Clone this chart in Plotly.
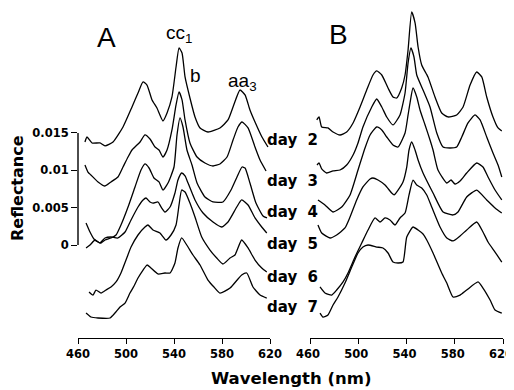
import plotly.graph_objects as go

# ---------------- data (reflectance in units of 1e-3, wavelength in nm) -------------
A_day2_nm = [465.8, 467.5, 471.7, 478.3, 482.5, 489.2, 497.5, 505.0, 510.0, 514.2, 517.5, 521.7, 525.8, 530.8, 534.2, 538.3, 541.7, 544.2, 546.7, 549.2, 553.3, 557.5, 561.7, 568.3, 578.3, 585.0, 589.2, 595.0, 599.2, 603.3, 607.5, 613.3, 618.3]
A_day2_R = [13.79, 14.46, 13.66, 13.66, 13.26, 13.79, 15.80, 18.48, 20.35, 21.83, 21.42, 19.42, 18.34, 16.60, 17.67, 19.82, 23.83, 26.38, 25.71, 22.50, 19.68, 17.14, 15.67, 15.13, 15.67, 16.74, 18.48, 20.75, 20.09, 18.08, 16.47, 14.46, 13.12]

A_day3_nm = [465.8, 468.3, 470.8, 476.7, 482.5, 487.5, 493.3, 497.5, 501.7, 505.0, 511.7, 515.8, 520.0, 524.2, 527.5, 530.8, 534.2, 538.3, 541.7, 544.2, 546.7, 549.2, 553.3, 559.2, 565.8, 572.5, 578.3, 584.2, 589.2, 593.3, 596.7, 601.7, 607.5, 611.7, 616.7]
A_day3_R = [10.71, 9.77, 9.37, 8.44, 7.90, 8.44, 9.11, 10.44, 11.78, 12.72, 13.79, 14.73, 14.19, 13.12, 12.72, 11.78, 12.72, 15.40, 18.75, 20.49, 19.42, 16.74, 13.66, 11.78, 10.98, 10.58, 10.85, 11.78, 14.06, 15.80, 16.47, 15.67, 13.12, 11.38, 9.91]

A_day4_nm = [466.7, 470.0, 473.3, 476.7, 479.2, 482.5, 487.5, 491.7, 495.8, 501.7, 507.5, 512.5, 515.8, 519.2, 523.3, 527.5, 530.8, 535.0, 540.0, 542.5, 545.0, 547.5, 550.8, 555.0, 559.2, 565.8, 572.5, 580.8, 587.5, 592.5, 596.7, 599.2, 603.3, 608.3, 614.2, 617.5]
A_day4_R = [2.95, 1.74, 0.80, 0.40, 0.27, 0.67, 0.94, 1.34, 2.68, 5.09, 7.77, 10.04, 10.85, 10.31, 8.97, 8.44, 7.36, 8.30, 10.44, 14.73, 17.01, 15.80, 12.72, 10.71, 8.30, 6.43, 5.76, 5.76, 7.36, 9.11, 10.44, 10.31, 8.30, 5.62, 3.88, 3.62]

A_day5_nm = [466.7, 470.0, 474.2, 478.3, 482.5, 487.5, 493.3, 499.2, 504.2, 510.0, 514.2, 516.7, 520.0, 522.5, 526.7, 529.2, 532.5, 536.7, 540.8, 543.3, 546.4, 549.2, 551.7, 557.5, 564.2, 572.5, 579.7, 585.0, 592.3, 596.4, 601.7, 607.5, 613.1, 617.3]
A_day5_R = [-0.40, 0.00, 0.67, 0.27, 0.94, 1.07, 0.94, 1.74, 3.35, 5.09, 6.03, 6.29, 5.76, 5.62, 5.76, 5.09, 4.42, 5.09, 6.96, 8.70, 9.64, 9.24, 8.30, 6.03, 4.28, 3.08, 2.41, 3.08, 5.09, 6.03, 5.36, 3.62, 2.41, 1.61]

A_day6_nm = [469.2, 472.5, 475.0, 479.2, 483.3, 487.5, 491.7, 495.8, 500.0, 504.2, 510.0, 515.8, 518.3, 522.5, 528.3, 533.3, 537.5, 541.7, 544.2, 546.4, 549.2, 553.3, 557.5, 563.1, 570.0, 575.6, 580.8, 586.7, 590.8, 596.4, 601.7, 607.5, 613.1, 617.3]
A_day6_R = [-6.29, -6.70, -6.03, -6.43, -6.03, -5.62, -4.95, -3.75, -2.01, -0.27, 1.34, 2.41, 2.68, 2.01, 1.61, 0.67, 1.34, 2.68, 5.36, 7.36, 7.10, 5.62, 3.75, 1.07, -0.67, -1.74, -2.54, -1.74, -1.34, 0.67, -0.40, -2.01, -3.08, -3.62]

A_day7_nm = [466.7, 470.8, 476.7, 486.7, 490.8, 495.0, 499.2, 503.3, 506.7, 510.0, 514.2, 517.5, 520.8, 526.7, 532.5, 536.7, 540.8, 543.3, 546.4, 550.6, 555.8, 561.7, 568.3, 573.3, 578.3, 586.7, 596.4, 600.6, 605.8, 611.7, 617.3]
A_day7_R = [-9.11, -9.64, -9.77, -9.77, -9.11, -8.30, -7.77, -6.43, -5.49, -4.42, -3.35, -2.68, -3.08, -3.88, -3.75, -3.75, -2.41, -0.40, 0.94, 0.00, -1.34, -2.68, -4.69, -5.62, -6.43, -5.76, -4.02, -3.75, -5.62, -6.70, -7.10]

B_day2_nm = [465.6, 467.5, 469.7, 474.9, 479.1, 484.9, 490.4, 495.7, 501.5, 507.0, 512.2, 515.3, 519.5, 524.7, 528.8, 531.9, 536.0, 538.8, 541.3, 544.3, 547.1, 549.6, 552.6, 557.8, 563.6, 569.2, 574.4, 581.6, 586.9, 592.7, 598.2, 602.4, 606.5, 611.7, 615.9, 619.0]
B_day2_R = [16.74, 17.14, 15.80, 15.67, 15.13, 14.73, 15.13, 16.34, 18.48, 20.75, 22.76, 23.30, 22.76, 21.02, 19.82, 19.68, 21.02, 22.76, 26.11, 31.20, 29.73, 26.51, 24.10, 22.50, 19.82, 17.67, 17.14, 17.41, 18.48, 21.42, 23.16, 22.50, 19.82, 17.14, 15.67, 15.26]

B_day3_nm = [465.8, 467.5, 469.7, 473.8, 479.1, 484.9, 490.4, 495.7, 499.8, 503.9, 511.2, 515.3, 519.5, 523.6, 528.8, 534.6, 538.8, 541.3, 543.7, 546.2, 548.5, 553.7, 559.5, 565.1, 570.3, 576.1, 581.6, 585.8, 591.0, 596.8, 601.0, 606.5, 611.7, 615.9, 619.0]
B_day3_R = [10.71, 10.98, 10.18, 9.64, 9.91, 10.04, 10.71, 12.05, 13.66, 15.80, 18.48, 19.55, 18.48, 17.14, 16.07, 17.41, 20.35, 24.37, 26.38, 25.17, 22.76, 20.75, 18.48, 15.00, 13.12, 12.99, 13.12, 14.46, 16.34, 17.41, 16.74, 14.46, 12.32, 10.71, 9.11]

B_day4_nm = [466.6, 472.4, 479.1, 486.3, 493.2, 499.8, 505.6, 509.8, 515.3, 519.5, 523.6, 528.8, 533.0, 538.8, 541.3, 542.9, 545.4, 548.5, 551.2, 555.4, 559.5, 562.0, 566.1, 573.4, 576.9, 580.2, 584.4, 589.9, 598.2, 603.4, 607.6, 613.4, 619.0]
B_day4_R = [6.03, 5.36, 4.42, 5.09, 6.70, 10.04, 12.99, 14.73, 15.80, 15.40, 14.46, 13.39, 13.12, 15.00, 17.41, 19.01, 21.02, 19.82, 18.08, 16.07, 14.06, 12.72, 10.04, 8.30, 8.70, 8.17, 8.57, 9.64, 10.98, 10.44, 9.11, 7.36, 6.03]

B_day5_nm = [466.6, 469.7, 476.6, 482.1, 489.0, 493.2, 498.7, 503.9, 509.8, 512.2, 516.4, 522.2, 527.7, 529.7, 533.0, 537.1, 540.2, 542.1, 544.3, 547.1, 549.6, 553.7, 562.0, 570.3, 578.6, 582.7, 589.9, 598.2, 606.5, 613.4, 619.0]
B_day5_R = [2.68, 1.61, 0.94, 1.34, 2.28, 3.75, 6.03, 7.77, 8.84, 8.97, 8.70, 8.03, 6.96, 6.70, 7.36, 8.44, 10.44, 12.72, 13.79, 12.72, 11.38, 9.64, 6.96, 4.42, 4.02, 4.42, 6.43, 7.36, 6.03, 4.95, 4.28]

B_day6_nm = [468.3, 472.4, 478.0, 482.1, 487.4, 491.5, 497.3, 502.9, 508.1, 513.9, 518.0, 522.2, 526.3, 530.5, 534.6, 538.8, 542.1, 545.4, 548.5, 552.6, 556.8, 560.9, 567.8, 573.4, 578.6, 584.4, 589.9, 598.2, 603.4, 607.6, 613.4, 619.0]
B_day6_R = [-5.62, -6.43, -6.70, -6.03, -4.95, -3.75, -1.61, 0.27, 2.01, 3.62, 3.08, 3.62, 3.35, 2.68, 3.62, 4.28, 6.70, 8.70, 8.03, 7.63, 6.70, 5.09, 2.41, 0.94, 0.54, 1.21, 2.01, 3.08, 1.74, 0.40, -0.94, -2.28]

B_day7_nm = [468.3, 470.8, 474.9, 479.1, 483.2, 489.0, 494.6, 499.8, 503.9, 508.1, 515.3, 520.5, 524.7, 528.8, 533.0, 537.1, 540.2, 545.4, 549.6, 553.7, 556.8, 562.0, 569.2, 573.4, 578.6, 584.4, 589.9, 599.3, 603.4, 609.3, 613.4, 619.0]
B_day7_R = [-9.11, -9.64, -9.37, -8.03, -6.96, -5.09, -2.95, -1.07, -0.27, 0.00, -0.27, -0.40, -1.07, -2.28, -2.41, -2.28, 1.07, 2.41, 2.01, 1.47, 0.67, -1.07, -3.75, -5.09, -6.96, -6.70, -6.03, -4.95, -5.76, -7.36, -8.70, -9.11]

day_labels = ["day 2", "day 3", "day 4", "day 5", "day 6", "day 7"]
x_ticks = [460, 500, 540, 580, 620]
y_ticks = [0, 0.005, 0.01, 0.015]
y_tick_text = ["0", "0.005", "0.01", "0.015"]

# ---------------- figure -------------
# the page body adds an 8px offset, so the figure is 8px smaller on each axis
OFF = 8
W, H = 514 - OFF, 390 - OFF
fig = go.Figure()

def fx(px):
    return (px - OFF) / W

def fy(py):
    return 1 - (py - OFF) / H

line_style = dict(color="black", width=1.3, shape="spline", smoothing=0.5)

panelA = [(A_day2_nm, A_day2_R), (A_day3_nm, A_day3_R), (A_day4_nm, A_day4_R),
          (A_day5_nm, A_day5_R), (A_day6_nm, A_day6_R), (A_day7_nm, A_day7_R)]
panelB = [(B_day2_nm, B_day2_R), (B_day3_nm, B_day3_R), (B_day4_nm, B_day4_R),
          (B_day5_nm, B_day5_R), (B_day6_nm, B_day6_R), (B_day7_nm, B_day7_R)]

for nm, R in panelA:
    fig.add_trace(go.Scatter(x=nm, y=[v * 1e-3 for v in R], mode="lines",
                             line=line_style, xaxis="x", yaxis="y",
                             showlegend=False, hoverinfo="skip"))
for nm, R in panelB:
    fig.add_trace(go.Scatter(x=nm, y=[v * 1e-3 for v in R], mode="lines",
                             line=line_style, xaxis="x2", yaxis="y",
                             showlegend=False, hoverinfo="skip"))

tick_font = dict(family="DejaVu Sans", size=11.5, color="black", weight="bold")

xcommon = dict(range=[460, 620], tickvals=x_ticks, ticks="outside", ticklen=5,
               tickwidth=1.2, tickcolor="black", showline=True, linecolor="black",
               linewidth=1.4, showgrid=False, zeroline=False, tickfont=tick_font,
               anchor="y", automargin=False, ticklabeloverflow="allow")

fig.update_layout(
    template="none",
    width=W, height=H,
    margin=dict(l=0, r=0, t=0, b=0, pad=0),
    paper_bgcolor="white", plot_bgcolor="white",
    showlegend=False,
    xaxis=dict(domain=[fx(78), fx(270)], **xcommon),
    xaxis2=dict(domain=[fx(310), fx(503)], ticklabelshift=-2, **xcommon),
    yaxis=dict(domain=[fy(338), 1.0], range=[-0.01245, 0.03173],
               tickvals=y_ticks, ticktext=y_tick_text, ticks="outside",
               ticklen=6, tickwidth=1.2, tickcolor="black", showline=False,
               showgrid=False, zeroline=False, tickfont=tick_font, anchor="x",
               automargin=False, ticklabeloverflow="allow"),
)

# y-axis line spanning only 0 .. 0.015
fig.add_shape(type="line", xref="x domain", yref="y", x0=0, x1=0,
              y0=y_ticks[0], y1=y_ticks[-1], line=dict(color="black", width=1.4))

def ann(text, px, py, size, family="Liberation Sans", bold=False, xanchor="center", angle=0):
    fig.add_annotation(text=text, x=fx(px), y=fy(py), xref="paper", yref="paper",
                       showarrow=False, xanchor=xanchor, yanchor="middle", textangle=angle,
                       font=dict(family=family, size=size, color="black",
                                 weight="bold" if bold else "normal"))

ann("A", 106, 37, 28)
ann("B", 338, 35, 28)
ann("cc<sub>1</sub>", 179, 34, 19)
ann("b", 195, 75, 19)
ann("aa<sub>3</sub>", 242, 82, 19)

day_y = [140, 181, 212, 244, 277, 307]
for lab, yy in zip(day_labels, day_y):
    word, num = lab.split(" ")
    ann(word + "\u00a0\u00a0" + num, 265, yy, 15, family="DejaVu Sans", bold=True, xanchor="left")

ann("Reflectance", 18, 188, 16, family="DejaVu Sans", bold=True, angle=-90)
ann("Wavelength (nm)", 291, 378, 16.5, family="DejaVu Sans", bold=True)

fig.write_html("out.html")
